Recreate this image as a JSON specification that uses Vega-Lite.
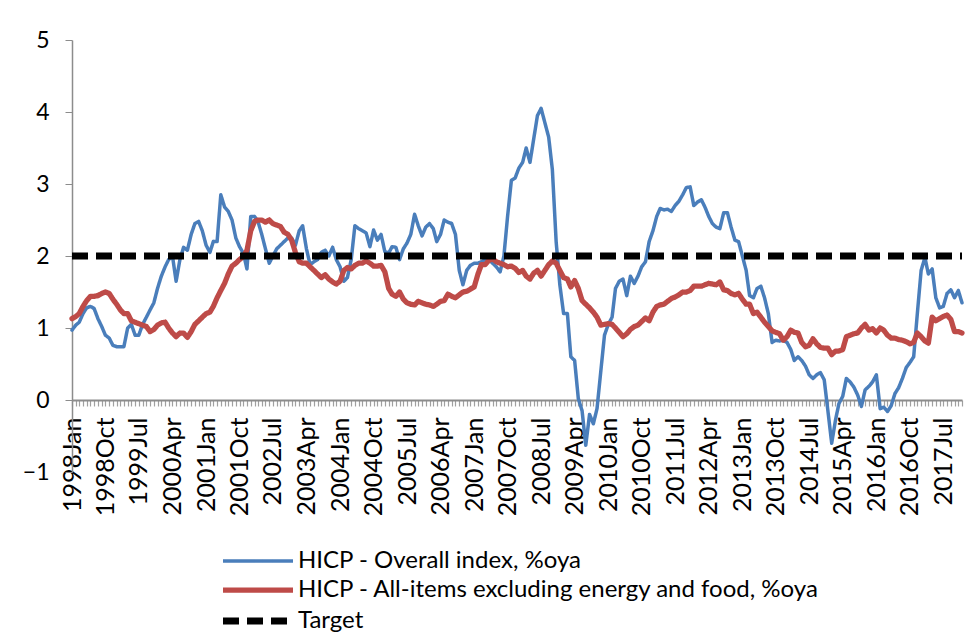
{
"$schema":"https://vega.github.io/schema/vega-lite/v6.json",
"width":890,"height":432,"autosize":"none",
"padding":{"left":72,"top":40,"right":17,"bottom":165},
"background":"white",
"config":{"view":{"stroke":null},"axis":{"labelFont":"Lato","labelColor":"#000000","grid":false,"title":null,"labelFontSize":23}},
"datasets":{"main":[
{"d":"1998-01","o":0.97,"c":1.13},{"d":"1998-02","o":1.04,"c":1.16},{"d":"1998-03","o":1.08,"c":1.2},{"d":"1998-04","o":1.2,"c":1.3},{"d":"1998-05","o":1.28,"c":1.38},{"d":"1998-06","o":1.3,"c":1.44},{"d":"1998-07","o":1.27,"c":1.44},{"d":"1998-08","o":1.13,"c":1.45},{"d":"1998-09","o":1.02,"c":1.48},{"d":"1998-10","o":0.9,"c":1.5},{"d":"1998-11","o":0.86,"c":1.48},{"d":"1998-12","o":0.76,"c":1.4},
{"d":"1999-01","o":0.74,"c":1.33},{"d":"1999-02","o":0.74,"c":1.25},{"d":"1999-03","o":0.74,"c":1.2},{"d":"1999-04","o":1.0,"c":1.2},{"d":"1999-05","o":1.05,"c":1.1},{"d":"1999-06","o":0.9,"c":1.08},{"d":"1999-07","o":0.9,"c":1.06},{"d":"1999-08","o":1.05,"c":1.04},{"d":"1999-09","o":1.15,"c":1.02},{"d":"1999-10","o":1.25,"c":0.95},{"d":"1999-11","o":1.35,"c":0.98},{"d":"1999-12","o":1.55,"c":1.04},
{"d":"2000-01","o":1.72,"c":1.07},{"d":"2000-02","o":1.85,"c":1.08},{"d":"2000-03","o":1.95,"c":1.0},{"d":"2000-04","o":2.0,"c":0.93},{"d":"2000-05","o":1.65,"c":0.88},{"d":"2000-06","o":1.95,"c":0.93},{"d":"2000-07","o":2.12,"c":0.93},{"d":"2000-08","o":2.08,"c":0.87},{"d":"2000-09","o":2.3,"c":0.95},{"d":"2000-10","o":2.45,"c":1.05},{"d":"2000-11","o":2.48,"c":1.1},{"d":"2000-12","o":2.35,"c":1.15},
{"d":"2001-01","o":2.15,"c":1.2},{"d":"2001-02","o":2.05,"c":1.22},{"d":"2001-03","o":2.2,"c":1.3},{"d":"2001-04","o":2.2,"c":1.42},{"d":"2001-05","o":2.85,"c":1.52},{"d":"2001-06","o":2.68,"c":1.62},{"d":"2001-07","o":2.62,"c":1.75},{"d":"2001-08","o":2.5,"c":1.86},{"d":"2001-09","o":2.25,"c":1.9},{"d":"2001-10","o":2.13,"c":1.95},{"d":"2001-11","o":2.04,"c":1.99},{"d":"2001-12","o":1.82,"c":2.08},
{"d":"2002-01","o":2.55,"c":2.35},{"d":"2002-02","o":2.55,"c":2.48},{"d":"2002-03","o":2.48,"c":2.5},{"d":"2002-04","o":2.3,"c":2.5},{"d":"2002-05","o":2.1,"c":2.47},{"d":"2002-06","o":1.9,"c":2.5},{"d":"2002-07","o":2.0,"c":2.45},{"d":"2002-08","o":2.1,"c":2.43},{"d":"2002-09","o":2.15,"c":2.41},{"d":"2002-10","o":2.2,"c":2.33},{"d":"2002-11","o":2.25,"c":2.3},{"d":"2002-12","o":2.25,"c":2.22},
{"d":"2003-01","o":2.15,"c":2.05},{"d":"2003-02","o":2.35,"c":1.92},{"d":"2003-03","o":2.42,"c":1.9},{"d":"2003-04","o":2.1,"c":1.9},{"d":"2003-05","o":1.88,"c":1.85},{"d":"2003-06","o":1.92,"c":1.8},{"d":"2003-07","o":1.95,"c":1.75},{"d":"2003-08","o":2.05,"c":1.7},{"d":"2003-09","o":2.08,"c":1.74},{"d":"2003-10","o":2.0,"c":1.68},{"d":"2003-11","o":2.12,"c":1.64},{"d":"2003-12","o":1.95,"c":1.61},
{"d":"2004-01","o":1.85,"c":1.65},{"d":"2004-02","o":1.65,"c":1.8},{"d":"2004-03","o":1.7,"c":1.84},{"d":"2004-04","o":1.95,"c":1.82},{"d":"2004-05","o":2.42,"c":1.87},{"d":"2004-06","o":2.38,"c":1.9},{"d":"2004-07","o":2.35,"c":1.9},{"d":"2004-08","o":2.32,"c":1.93},{"d":"2004-09","o":2.13,"c":1.9},{"d":"2004-10","o":2.36,"c":1.86},{"d":"2004-11","o":2.22,"c":1.86},{"d":"2004-12","o":2.3,"c":1.87},
{"d":"2005-01","o":2.06,"c":1.78},{"d":"2005-02","o":2.04,"c":1.55},{"d":"2005-03","o":2.13,"c":1.47},{"d":"2005-04","o":2.12,"c":1.44},{"d":"2005-05","o":1.95,"c":1.5},{"d":"2005-06","o":2.1,"c":1.4},{"d":"2005-07","o":2.18,"c":1.35},{"d":"2005-08","o":2.3,"c":1.33},{"d":"2005-09","o":2.58,"c":1.32},{"d":"2005-10","o":2.42,"c":1.37},{"d":"2005-11","o":2.28,"c":1.35},{"d":"2005-12","o":2.4,"c":1.33},
{"d":"2006-01","o":2.45,"c":1.32},{"d":"2006-02","o":2.38,"c":1.3},{"d":"2006-03","o":2.2,"c":1.33},{"d":"2006-04","o":2.3,"c":1.37},{"d":"2006-05","o":2.5,"c":1.38},{"d":"2006-06","o":2.47,"c":1.47},{"d":"2006-07","o":2.45,"c":1.44},{"d":"2006-08","o":2.3,"c":1.42},{"d":"2006-09","o":1.8,"c":1.46},{"d":"2006-10","o":1.6,"c":1.5},{"d":"2006-11","o":1.8,"c":1.51},{"d":"2006-12","o":1.87,"c":1.54},
{"d":"2007-01","o":1.9,"c":1.57},{"d":"2007-02","o":1.9,"c":1.75},{"d":"2007-03","o":1.92,"c":1.88},{"d":"2007-04","o":1.95,"c":1.88},{"d":"2007-05","o":1.95,"c":1.94},{"d":"2007-06","o":1.9,"c":1.96},{"d":"2007-07","o":1.85,"c":1.92},{"d":"2007-08","o":1.78,"c":1.9},{"d":"2007-09","o":2.0,"c":1.88},{"d":"2007-10","o":2.55,"c":1.85},{"d":"2007-11","o":3.05,"c":1.86},{"d":"2007-12","o":3.08,"c":1.83},
{"d":"2008-01","o":3.22,"c":1.77},{"d":"2008-02","o":3.3,"c":1.8},{"d":"2008-03","o":3.5,"c":1.72},{"d":"2008-04","o":3.3,"c":1.68},{"d":"2008-05","o":3.62,"c":1.76},{"d":"2008-06","o":3.95,"c":1.8},{"d":"2008-07","o":4.05,"c":1.72},{"d":"2008-08","o":3.85,"c":1.8},{"d":"2008-09","o":3.65,"c":1.88},{"d":"2008-10","o":3.2,"c":1.93},{"d":"2008-11","o":2.2,"c":1.9},{"d":"2008-12","o":1.6,"c":1.8},
{"d":"2009-01","o":1.2,"c":1.7},{"d":"2009-02","o":1.2,"c":1.68},{"d":"2009-03","o":0.6,"c":1.57},{"d":"2009-04","o":0.55,"c":1.66},{"d":"2009-05","o":0.02,"c":1.55},{"d":"2009-06","o":-0.15,"c":1.38},{"d":"2009-07","o":-0.63,"c":1.33},{"d":"2009-08","o":-0.2,"c":1.28},{"d":"2009-09","o":-0.33,"c":1.22},{"d":"2009-10","o":-0.12,"c":1.15},{"d":"2009-11","o":0.4,"c":1.04},{"d":"2009-12","o":0.9,"c":1.05},
{"d":"2010-01","o":1.05,"c":1.06},{"d":"2010-02","o":1.15,"c":1.05},{"d":"2010-03","o":1.55,"c":1.0},{"d":"2010-04","o":1.65,"c":0.94},{"d":"2010-05","o":1.68,"c":0.88},{"d":"2010-06","o":1.45,"c":0.92},{"d":"2010-07","o":1.72,"c":0.98},{"d":"2010-08","o":1.62,"c":1.02},{"d":"2010-09","o":1.72,"c":1.04},{"d":"2010-10","o":1.85,"c":1.09},{"d":"2010-11","o":1.92,"c":1.14},{"d":"2010-12","o":2.2,"c":1.1},
{"d":"2011-01","o":2.35,"c":1.22},{"d":"2011-02","o":2.55,"c":1.3},{"d":"2011-03","o":2.66,"c":1.32},{"d":"2011-04","o":2.64,"c":1.33},{"d":"2011-05","o":2.65,"c":1.37},{"d":"2011-06","o":2.62,"c":1.41},{"d":"2011-07","o":2.7,"c":1.43},{"d":"2011-08","o":2.76,"c":1.46},{"d":"2011-09","o":2.85,"c":1.5},{"d":"2011-10","o":2.95,"c":1.5},{"d":"2011-11","o":2.96,"c":1.52},{"d":"2011-12","o":2.7,"c":1.58},
{"d":"2012-01","o":2.75,"c":1.58},{"d":"2012-02","o":2.78,"c":1.58},{"d":"2012-03","o":2.68,"c":1.6},{"d":"2012-04","o":2.55,"c":1.62},{"d":"2012-05","o":2.45,"c":1.61},{"d":"2012-06","o":2.4,"c":1.6},{"d":"2012-07","o":2.38,"c":1.64},{"d":"2012-08","o":2.6,"c":1.53},{"d":"2012-09","o":2.6,"c":1.52},{"d":"2012-10","o":2.4,"c":1.48},{"d":"2012-11","o":2.22,"c":1.46},{"d":"2012-12","o":2.2,"c":1.48},
{"d":"2013-01","o":2.0,"c":1.4},{"d":"2013-02","o":1.8,"c":1.33},{"d":"2013-03","o":1.45,"c":1.33},{"d":"2013-04","o":1.42,"c":1.2},{"d":"2013-05","o":1.55,"c":1.22},{"d":"2013-06","o":1.58,"c":1.15},{"d":"2013-07","o":1.42,"c":1.08},{"d":"2013-08","o":1.2,"c":1.02},{"d":"2013-09","o":0.8,"c":0.96},{"d":"2013-10","o":0.83,"c":0.94},{"d":"2013-11","o":0.82,"c":0.92},{"d":"2013-12","o":0.83,"c":0.83},
{"d":"2014-01","o":0.8,"c":0.88},{"d":"2014-02","o":0.7,"c":0.97},{"d":"2014-03","o":0.55,"c":0.94},{"d":"2014-04","o":0.6,"c":0.93},{"d":"2014-05","o":0.55,"c":0.8},{"d":"2014-06","o":0.47,"c":0.74},{"d":"2014-07","o":0.35,"c":0.76},{"d":"2014-08","o":0.3,"c":0.85},{"d":"2014-09","o":0.35,"c":0.78},{"d":"2014-10","o":0.38,"c":0.73},{"d":"2014-11","o":0.28,"c":0.72},{"d":"2014-12","o":-0.15,"c":0.72},
{"d":"2015-01","o":-0.6,"c":0.63},{"d":"2015-02","o":-0.28,"c":0.68},{"d":"2015-03","o":-0.05,"c":0.68},{"d":"2015-04","o":0.05,"c":0.7},{"d":"2015-05","o":0.3,"c":0.88},{"d":"2015-06","o":0.25,"c":0.9},{"d":"2015-07","o":0.18,"c":0.92},{"d":"2015-08","o":0.07,"c":0.93},{"d":"2015-09","o":-0.09,"c":1.0},{"d":"2015-10","o":0.14,"c":1.05},{"d":"2015-11","o":0.19,"c":0.97},{"d":"2015-12","o":0.25,"c":0.99},
{"d":"2016-01","o":0.35,"c":0.93},{"d":"2016-02","o":-0.12,"c":1.0},{"d":"2016-03","o":-0.1,"c":0.97},{"d":"2016-04","o":-0.16,"c":0.9},{"d":"2016-05","o":-0.08,"c":0.86},{"d":"2016-06","o":0.09,"c":0.86},{"d":"2016-07","o":0.17,"c":0.84},{"d":"2016-08","o":0.3,"c":0.83},{"d":"2016-09","o":0.45,"c":0.81},{"d":"2016-10","o":0.52,"c":0.78},{"d":"2016-11","o":0.6,"c":0.8},{"d":"2016-12","o":1.2,"c":0.93},
{"d":"2017-01","o":1.8,"c":0.88},{"d":"2017-02","o":1.98,"c":0.82},{"d":"2017-03","o":1.75,"c":0.79},{"d":"2017-04","o":1.82,"c":1.15},{"d":"2017-05","o":1.42,"c":1.1},{"d":"2017-06","o":1.28,"c":1.13},{"d":"2017-07","o":1.3,"c":1.16},{"d":"2017-08","o":1.48,"c":1.18},{"d":"2017-09","o":1.53,"c":1.12},{"d":"2017-10","o":1.42,"c":0.95},{"d":"2017-11","o":1.52,"c":0.95},{"d":"2017-12","o":1.35,"c":0.93}
],
"target":[{"d":"1998-01","s":"t","v":2},{"d":"2017-12","s":"t","v":2}]},
"data":{"name":"main"},
"encoding":{
"x":{"field":"d","type":"temporal","scale":{"type":"utc","domain":[{"year":1998,"month":1,"date":1,"utc":true},{"year":2017,"month":12,"date":1,"utc":true}]},
 "axis":{"offset":-72,"domainColor":"#8c8c8c","domainWidth":2,"tickColor":"#a0a0a0","tickWidth":1.2,"tickSize":6,"tickCount":{"interval":"month","step":1},"labelAngle":-90,"labelAlign":"right","labelBaseline":"middle","labelPadding":11,"labelFontSize":25,"labelOverlap":false,"labelFlush":false,"labelBound":false,
 "labelExpr":"((utcyear(datum.value)-1998)*12+utcmonth(datum.value))%9==0 ? utcFormat(datum.value,'%Y%b') : ''"}},
"y":{"field":"v","type":"quantitative","scale":{"domain":[-1,5],"nice":false,"zero":false},
 "axis":{"values":[-1,0,1,2,3,4,5],"tickSize":7,"tickColor":"#8c8c8c","domainColor":"#8c8c8c","domainWidth":1.5,"labelPadding":16}},
"color":{"field":"s","type":"nominal","scale":{"domain":["o","c","t"],"range":["#4A7EBB","#BE4B48","#000000"]},
 "legend":{"orient":"none","legendX":174,"legendY":509,"title":null,"padding":0,"direction":"vertical","labelFont":"Lato","labelFontSize":24,"labelColor":"#000000","labelLimit":0,"symbolType":"M-7,0H7","symbolSize":100,"labelOffset":28,"rowPadding":5,
 "labelExpr":"datum.value=='o' ? 'HICP - Overall index, %oya' : datum.value=='c' ? 'HICP - All-items excluding energy and food, %oya' : 'Target'"}},
"strokeWidth":{"field":"s","type":"ordinal","scale":{"domain":["o","c","t"],"range":[3.5,7,4.5]},
 "legend":{"orient":"none","legendX":174,"legendY":509,"title":null,"padding":0,"direction":"vertical","labelFont":"Lato","labelFontSize":24,"labelColor":"#000000","labelLimit":0,"symbolType":"M-7,0H7","symbolSize":100,"labelOffset":28,"rowPadding":5,
 "labelExpr":"datum.value=='o' ? 'HICP - Overall index, %oya' : datum.value=='c' ? 'HICP - All-items excluding energy and food, %oya' : 'Target'"}},
"strokeDash":{"field":"s","type":"nominal","scale":{"domain":["o","c","t"],"range":[[1,0],[1,0],[16,8]]},
 "legend":{"orient":"none","legendX":174,"legendY":509,"title":null,"padding":0,"direction":"vertical","labelFont":"Lato","labelFontSize":24,"labelColor":"#000000","labelLimit":0,"symbolType":"M-7,0H7","symbolSize":100,"labelOffset":28,"rowPadding":5,
 "labelExpr":"datum.value=='o' ? 'HICP - Overall index, %oya' : datum.value=='c' ? 'HICP - All-items excluding energy and food, %oya' : 'Target'"}}
},
"layer":[
{"transform":[{"fold":["o"],"as":["s","v"]}],"mark":{"type":"line","strokeJoin":"round","strokeCap":"round"}},
{"transform":[{"fold":["c"],"as":["s","v"]}],"mark":{"type":"line","strokeJoin":"round","strokeCap":"round"}},
{"data":{"name":"target"},"mark":{"type":"line","strokeCap":"butt"}}
]
}
